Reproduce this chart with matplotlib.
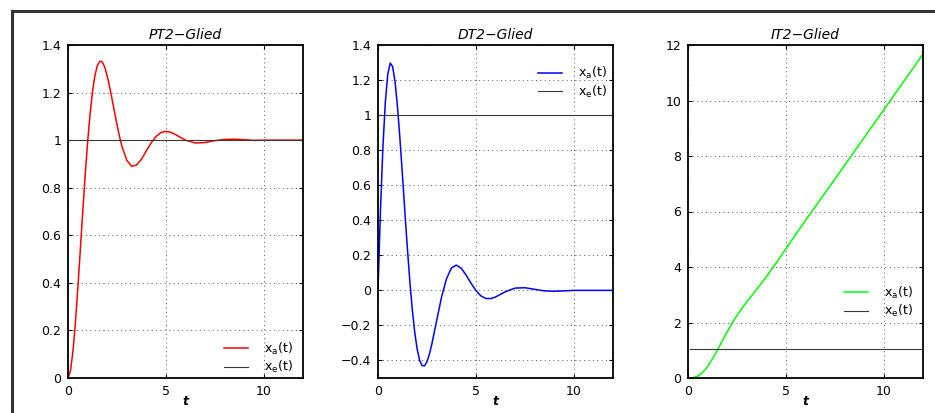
import matplotlib
matplotlib.use( 'Agg' )
import matplotlib.pyplot as plt
import matplotlib.lines as mlines

plt.rcParams[ 'font.family' ] = [ 'DejaVu Sans' ]
plt.rcParams[ 'mathtext.fontset' ] = 'dejavusans'

# ---- Daten ----
t_pt2 = [ 0 , 0.125 , 0.25 , 0.375 , 0.5 , 0.625 , 0.75 , 0.875 , 1.0 , 1.125 , 1.25 , 1.375 , 1.5 , 1.625 ,
          1.75 , 1.875 , 2.0 , 2.125 , 2.25 , 2.375 , 2.5 , 2.625 , 2.75 , 3.0 , 3.25 , 3.5 , 3.75 ,
          4.0 , 4.25 , 4.5 , 4.75 , 5.0 , 5.25 , 5.5 , 5.75 , 6.0 , 6.5 , 7.0 , 7.5 , 8.0 , 8.5 , 9.0 , 9.5 ,
          10 , 11 , 12 ]
xa_pt2 = [ 0 , 0.030 , 0.110 , 0.229 , 0.375 , 0.534 , 0.695 , 0.850 , 0.990 , 1.108 , 1.203 , 1.272 , 1.314 ,
           1.332 , 1.329 , 1.307 , 1.270 , 1.224 , 1.172 , 1.118 , 1.066 , 1.017 , 0.975 , 0.916 ,
           0.890 , 0.895 , 0.920 , 0.955 , 0.989 , 1.016 , 1.032 , 1.037 , 1.033 , 1.023 , 1.011 , 1.000 ,
           0.988 , 0.990 , 0.998 , 1.003 , 1.004 , 1.002 , 0.999 , 1.0 , 1.0 , 1.0 ]

t_dt2 = [ 0 , 0.125 , 0.25 , 0.375 , 0.5 , 0.625 , 0.75 , 0.875 , 1.0 , 1.125 , 1.25 , 1.375 , 1.5 , 1.625 ,
          1.75 , 1.875 , 2.0 , 2.125 , 2.25 , 2.375 , 2.5 , 2.625 , 2.75 , 3.0 , 3.25 , 3.5 , 3.75 , 4.0 ,
          4.25 , 4.5 , 4.75 , 5.0 , 5.25 , 5.5 , 5.75 , 6.0 , 6.5 , 7.0 , 7.5 , 8.0 , 8.5 , 9.0 , 9.5 ,
          10 , 11 , 12 ]
xa_dt2 = [ 0 , 0.456 , 0.817 , 1.076 , 1.234 , 1.297 , 1.276 , 1.186 , 1.041 , 0.858 , 0.654 , 0.443 , 0.240 ,
           0.053 , -0.108 , -0.239 , -0.335 , -0.399 , -0.429 , -0.431 , -0.407 , -0.364 , -0.306 , -0.170 ,
           -0.036 , 0.067 , 0.128 , 0.144 , 0.126 , 0.087 , 0.041 , -0.001 , -0.031 , -0.046 , -0.047 ,
           -0.038 , -0.008 , 0.013 , 0.015 , 0.006 , -0.003 , -0.005 , -0.003 , 0 , 0 , 0 ]

t_it2 = [ 0 , 0.25 , 0.5 , 0.75 , 1.0 , 1.25 , 1.5 , 1.75 , 2.0 , 2.25 , 2.5 , 2.75 , 3.0 , 3.5 , 4.0 , 4.5 ,
          5.0 , 5.5 , 6.0 , 7.0 , 8.0 , 9.0 , 10 , 11 , 12 ]
xa_it2 = [ 0 , 0.010 , 0.068 , 0.202 , 0.414 , 0.690 , 1.006 , 1.338 , 1.665 , 1.970 , 2.250 , 2.505 , 2.740 ,
           3.188 , 3.649 , 4.143 , 4.658 , 5.174 , 5.680 , 6.670 , 7.667 , 8.670 , 9.670 , 10.670 , 11.670 ]

# Eingang x_e(t)
t_xe = [ 0 , 12 ]
xe_pt2 = [ 1 , 1 ]
xe_dt2 = [ 1 , 1 ]
t_xe_it2 = [ 0.1 , 12 ]
xe_it2 = [ 1.05 , 1.05 ]

titles = [ 'PT2\u2212Glied' , 'DT2\u2212Glied' , 'IT2\u2212Glied' ]
xticks = [ 0 , 5 , 10 ]
yticks_pt2 = [ 0 , 0.2 , 0.4 , 0.6 , 0.8 , 1 , 1.2 , 1.4 ]
ylabels_pt2 = [ '0' , '0.2' , '0.4' , '0.6' , '0.8' , '1' , '1.2' , '1.4' ]
yticks_dt2 = [ -0.4 , -0.2 , 0 , 0.2 , 0.4 , 0.6 , 0.8 , 1 , 1.2 , 1.4 ]
ylabels_dt2 = [ '\u22120.4' , '\u22120.2' , '0' , '0.2' , '0.4' , '0.6' , '0.8' , '1' , '1.2' , '1.4' ]
yticks_it2 = [ 0 , 2 , 4 , 6 , 8 , 10 , 12 ]
ylabels_it2 = [ '0' , '2' , '4' , '6' , '8' , '10' , '12' ]

FS = 9

fig = plt.figure( figsize=(9.35 , 4.13) , dpi=100 )

lefts = [ 68 , 378 , 688 ]
axes = [ fig.add_axes( [ l / 935 , 35 / 413 , 235 / 935 , 333 / 413 ] ) for l in lefts ]

data = [
    (t_pt2 , xa_pt2 , t_xe , xe_pt2 , '#ff0000' , (0 , 1.4) , yticks_pt2 , ylabels_pt2 , (0.664 , 0.112)) ,
    (t_dt2 , xa_dt2 , t_xe , xe_dt2 , '#0000ff' , (-0.5 , 1.4) , yticks_dt2 , ylabels_dt2 , (0.681 , 0.94)) ,
    (t_it2 , xa_it2 , t_xe_it2 , xe_it2 , '#00ff00' , (0 , 12) , yticks_it2 , ylabels_it2 , (0.664 , 0.28)) ,
]

for ax , title , d in zip( axes , titles , data ) :
    t , xa , te , xe , col , ylim , yt , yl , leg_pos = d
    ax.plot( t , xa , color=col , lw=1.1 , label=r'x$_\mathrm{a}$(t)' )
    ax.plot( te , xe , color='#383838' , lw=0.8 , label=r'x$_\mathrm{e}$(t)' )
    ax.set_xlim( 0 , 12 )
    ax.set_ylim( *ylim )
    ax.set_xticks( xticks )
    ax.set_xticklabels( [ str( x ) for x in xticks ] )
    ax.set_yticks( yt )
    ax.set_yticklabels( yl )
    ax.tick_params( direction='in' , length=3 , width=0.8 , top=True , right=True , labelsize=FS , pad=5 )
    ax.grid( True , linestyle=(0 , (1 , 3.5)) , color='0.35' , lw=0.7 )
    for s in ax.spines.values() :
        s.set_linewidth( 1.3 )
    ax.set_title( title , fontsize=10 , style='italic' , pad=4 )
    ax.set_xlabel( 't' , fontsize=FS , style='italic' , fontweight='bold' , labelpad=1 )
    ax.xaxis.set_label_coords( 0.5 , -0.05 )
    ax.legend( loc='upper left' , bbox_to_anchor=leg_pos , frameon=False , fontsize=FS ,
               handlelength=1.9 , handletextpad=1.3 , labelspacing=0.2 , borderpad=0 , borderaxespad=0 )

# Rahmen um die Abbildung (rechts/unten abgeschnitten)
x0 , y0 = 12 / 935 , 1 - 11 / 413
fig.add_artist( mlines.Line2D( [ x0 , x0 ] , [ 0 , y0 ] , color='#333333' , lw=2.2 , transform=fig.transFigure ) )
fig.add_artist( mlines.Line2D( [ x0 , 1 ] , [ y0 , y0 ] , color='#333333' , lw=2.2 , transform=fig.transFigure ) )

fig.savefig( 'out.png' , dpi=100 )
